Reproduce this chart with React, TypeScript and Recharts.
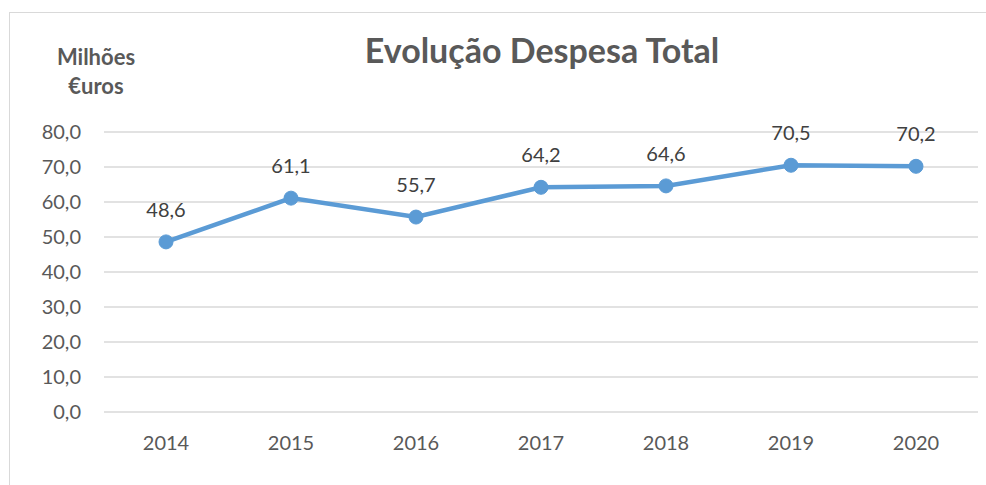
import { CartesianGrid, LabelList, Line, LineChart, XAxis, YAxis } from 'recharts'

const years = ['2014', '2015', '2016', '2017', '2018', '2019', '2020']
const despesa = [48.6, 61.1, 55.7, 64.2, 64.6, 70.5, 70.2]
const yTicks = [0, 10, 20, 30, 40, 50, 60, 70, 80]

const data = years.map((year, i) => ({ year, despesa: despesa[i] }))

const fmt = (v: number) => v.toFixed(1).replace('.', ',')
const TEXT = '#595959'
const FONT = 'Lato, "Open Sans", sans-serif'

export default function App() {
  return (
    <div style={{ position: 'absolute', left: 0, top: 0, width: 986, height: 485, background: '#fff', fontFamily: FONT, overflow: 'hidden' }}>
      {/* chart frame: only left/top edges visible in the crop */}
      <div style={{ position: 'absolute', left: 9, top: 12, width: 1000, height: 500, borderLeft: '1.5px solid #d9d9d9', borderTop: '1.5px solid #d9d9d9' }} />
      <div style={{ position: 'absolute', left: 292, top: 29, width: 500, textAlign: 'center', fontSize: 34, fontWeight: 700, color: TEXT, lineHeight: '42px' }}>
        Evolução Despesa Total
      </div>
      <div style={{ position: 'absolute', left: 41, top: 42, width: 110, textAlign: 'center', fontSize: 22, fontWeight: 700, color: TEXT, lineHeight: '29px' }}>
        Milhões<br />€uros
      </div>
      <div style={{ position: 'absolute', left: 0, top: 0 }}>
        <LineChart width={986} height={485} data={data} margin={{ top: 132, right: 8, bottom: 0, left: 44 }}>
          <CartesianGrid vertical={false} stroke="#d9d9d9" strokeWidth={1.5} />
          <XAxis
            dataKey="year" axisLine={false} tickLine={false} height={73}
            padding={{ left: 62, right: 62 }}
            tickMargin={18} tick={{ fontSize: 20, fill: TEXT }}
          />
          <YAxis
            width={60} domain={[0, 80]} ticks={yTicks} axisLine={false} tickLine={false}
            tickMargin={17} tickFormatter={fmt} tick={{ fontSize: 20, fill: TEXT }}
          />
          <Line
            dataKey="despesa" stroke="#5b9bd5" strokeWidth={4.5}
            dot={{ r: 7, fill: '#5b9bd5', stroke: '#5b9bd5', strokeWidth: 1 }}
            activeDot={false} isAnimationActive={false}
          >
            <LabelList dataKey="despesa" position="top" offset={25} formatter={(v: any) => fmt(Number(v))} style={{ fontSize: 20, fill: '#404040' }} />
          </Line>
        </LineChart>
      </div>
    </div>
  )
}
